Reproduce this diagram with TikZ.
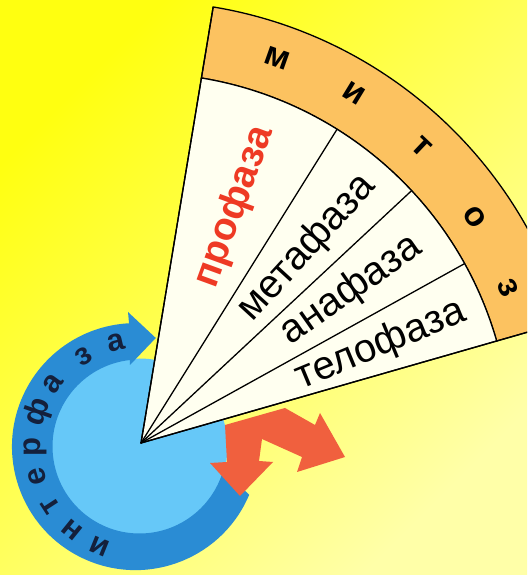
\documentclass[tikz,border=0pt]{standalone}
\usepackage{fontspec}
\setmainfont{Liberation Sans}
\definecolor{bgA}{HTML}{FFFF10}
\definecolor{bgB}{HTML}{FFFFA8}
\definecolor{lightblue}{HTML}{66C8F8}
\definecolor{ringblue}{HTML}{2A8CD4}
\definecolor{arrowred}{HTML}{F0603E}
\definecolor{bandorange}{HTML}{FCC260}
\definecolor{cream}{HTML}{FFFFF0}
\definecolor{navy}{HTML}{14203C}
\definecolor{prored}{HTML}{EE3A24}
\tikzset{
  edge/.style={draw=black, line width=1.3pt},
  fantext/.style={inner sep=0pt, font=\fontsize{40}{44}\selectfont},
  ringletter/.style={inner sep=0pt, anchor=base, text=navy, font=\fontsize{31}{34}\selectfont\bfseries},
  bandletter/.style={inner sep=0pt, anchor=base, text=black, font=\fontsize{34}{38}\selectfont\bfseries},
}
\begin{document}
\begin{tikzpicture}[x=1pt,y=1pt]
\useasboundingbox (-141,-132) rectangle (386,443);
\clip (-141,-132) rectangle (386,443);
\shade[top color=bgA, bottom color=bgB, shading angle=45] (-141,-132) rectangle (386,443);

% light blue disk
\fill[lightblue] (-1.5,-3.5) circle (88);
% blue ring with arrow head
\fill[ringblue] ([shift={(-5.5,-3.6)}]-23:123.5) arc[start angle=-23, end angle=-267, radius=123.5]
  -- (-13,131) -- (14.8,105) -- (-11,78)
  -- ([shift={(-1.5,-3.5)}]96.3:87) arc[start angle=-263.7, end angle=-15.4, radius=87] -- cycle;

% ring letters
\foreach \ang/\ch [count=\k] in {-112/и,-129/н,-147/т,-164/е,-180/р,-199/ф,-216/а,-238/з,-257/а}{
  \node[ringletter, rotate=\ang-90] (ring\k) at ([shift={(-1,-4)}]\ang:99) {\ch};
}

% red split arrow
\fill[arrowred] (84,18) -- (86,-19) -- (69,-20) -- (99,-53) -- (132,-19) -- (118,-18)
  -- (121,4) -- (161,-14) -- (156,-29) -- (204,-14) -- (179,30) -- (174,18) -- (144,35) -- cycle;

% fan: orange band
\filldraw[fill=bandorange, edge] (80.6:442) arc[start angle=80.6, end angle=16, radius=442]
  -- (16:370) arc[start angle=16, end angle=80.6, radius=370] -- cycle;
% fan: cream sector
\filldraw[fill=cream, edge] (0,0) -- (80.6:370) arc[start angle=80.6, end angle=16, radius=370] -- cycle;
\draw[edge] (0,0) -- (80.6:442);
\draw[edge] (0,0) -- (16:442);
\draw[edge] (0,0) -- (58:370);
\draw[edge] (0,0) -- (43:370);
\draw[edge] (0,0) -- (29:370);

% phase names
\node[fantext, text=prored, font=\fontsize{39}{44}\selectfont\bfseries, rotate=70] (pro) at (68.3:254) {профаза};
\node[fantext, rotate=47.5] (meta) at (49.6:256) {метафаза};
\node[fantext, rotate=35] (ana) at (36:260) {анафаза};
\node[fantext, rotate=22.5] (telo) at (22.2:259) {телофаза};

% band letters
\foreach \ang/\rad/\ch [count=\k] in {70.5/399/м,58.6/401/и,46.5/399/т,34.1/394/о,22.9/390/з}{
  \node[bandletter, rotate=\ang-90] (band\k) at (\ang:\rad) {\ch};
}
\end{tikzpicture}
\end{document}
